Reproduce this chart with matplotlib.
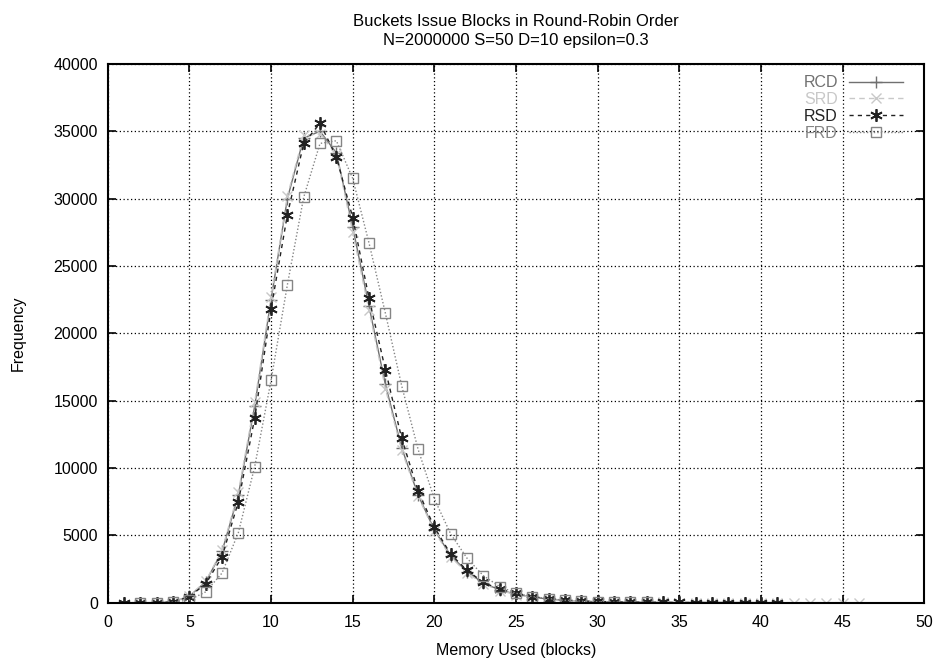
import matplotlib
matplotlib.use('Agg')
import matplotlib.pyplot as plt

plt.rcParams['font.family'] = ['Liberation Sans', 'DejaVu Sans']

# memory used (blocks) and frequency per policy
rcd_x = list(range(1, 41))
rcd_y = [0, 0, 0, 55, 480, 1550, 3800, 8000, 14600, 22500,
         30000, 34500, 35000, 33400, 27900, 22000, 16200, 11500, 8000, 5400,
         3500, 2300, 1450, 950, 620, 410, 260, 170, 110, 75,
         50, 35, 25, 18, 12, 9, 6, 4, 3, 2]

srd_x = list(range(2, 47))
srd_y = [0, 0, 60, 500, 1600, 3900, 8200, 14900, 22700, 30200,
         34700, 34800, 33300, 27500, 21700, 15900, 11300, 7900, 5300, 3400,
         2200, 1400, 900, 600, 400, 250, 160, 110, 70, 50,
         35, 25, 18, 12, 9, 6, 5, 4, 3, 2,
         2, 1, 1, 1, 1]

rsd_x = list(range(1, 42))
rsd_y = [0, 0, 0, 50, 450, 1400, 3400, 7500, 13700, 21800,
         28800, 34100, 35600, 33100, 28600, 22600, 17300, 12200, 8300, 5600,
         3600, 2400, 1500, 1000, 700, 450, 300, 200, 120, 90,
         60, 40, 30, 20, 15, 10, 8, 5, 3, 2, 1]

frd_x = list(range(2, 34))
frd_y = [0, 0, 40, 200, 800, 2200, 5200, 10100, 16500, 23600,
         30100, 34100, 34300, 31500, 26700, 21500, 16100, 11400, 7700, 5100,
         3300, 2000, 1200, 700, 450, 300, 180, 110, 70, 40,
         25, 15]

fig = plt.figure(figsize=(9.38, 6.63), dpi=100)
ax = fig.add_axes([0.1148, 0.0910, 0.8707, 0.8125])

ax.plot(rcd_x, rcd_y, color='#707070', lw=1.0, ls='-', marker='+', ms=8, mew=1.0, label='RCD')
ax.plot(srd_x, srd_y, color='#c8c8c8', lw=1.0, ls=(0, (4, 3)), marker='x', ms=6.5, mew=1.0, label='SRD')
ax.plot(rsd_x, rsd_y, color='#222222', lw=1.0, ls=(0, (3, 3)), marker=(6, 2, 0), ms=9, mew=1.3, label='RSD')
ax.plot(frd_x, frd_y, color='#858585', lw=1.0, ls=(0, (1, 1.5)), marker='s', ms=7, mew=1.0,
        mfc='none', label='FRD')

ax.set_xlim(0, 50)
ax.set_ylim(0, 40000)
ax.set_xticks(range(0, 51, 5))
ax.set_yticks(range(0, 40001, 5000))
ax.grid(True, color='black', ls=(0, (1, 2)), lw=0.9)
ax.tick_params(direction='in', length=6, width=1.2, top=True, right=True, labelsize=11.5)
ax.tick_params(axis='x', pad=9)
ax.tick_params(axis='y', pad=7)
for s in ax.spines.values():
    s.set_linewidth(1.5)

ax.set_xlabel('Memory Used (blocks)', fontsize=11.5, labelpad=9)
ax.set_ylabel('Frequency', fontsize=11.5, labelpad=20)
ax.set_title('Buckets Issue Blocks in Round-Robin Order\nN=2000000 S=50 D=10 epsilon=0.3',
             fontsize=12, linespacing=1.3, pad=14)

leg = ax.legend(loc='upper right', bbox_to_anchor=(0.988, 1.0), markerfirst=False, frameon=False,
                handlelength=3.4, handletextpad=0.7, labelspacing=0.12, fontsize=11.5,
                borderaxespad=0.3, labelcolor=['#707070', '#c8c8c8', '#222222', '#858585'])

fig.savefig('out.png', dpi=100)
